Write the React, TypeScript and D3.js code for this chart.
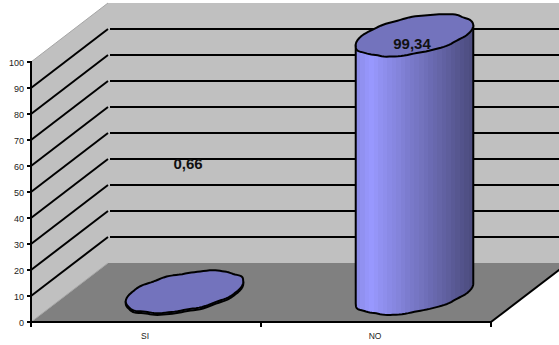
import React from "react";
import * as d3 from "d3";

const categories = ["SI", "NO"];
const values = [0.66, 99.34];
const valueLabels = ["0,66", "99,34"];
const gridValues = [10, 20, 30, 40, 50, 60, 70, 80, 90];

// Hand-traced radial deviation of each cylinder cap outline, one entry per 15 degrees.
const outlineWobbleSi = [1.0, 1.0, 1.0, 1.02, 0.98, 1.0, 1.025, 0.985, 0.97, 1.025, 0.985, 1.025, 1.0, 1.0, 1.0, 1.0, 1.025, 0.98, 1.02, 1.0, 0.975, 1.02, 0.985, 1.02];
const outlineWobbleNo = [1.0, 1.0, 1.0, 1.0, 0.98, 1.02, 1.0, 0.98, 1.015, 0.98, 1.0, 0.98, 1.0, 1.0, 1.0, 1.02, 0.985, 0.975, 1.02, 1.025, 0.98, 1.0, 1.02, 0.98];

const bodyShades = ["#8c8ce9", "#9999ff", "#8f8fee", "#8686df", "#7c7cce", "#7373bf", "#6969af", "#60609f", "#56568f", "#4d4d80"];

const WIDTH = 559;
const HEIGHT = 345;
const depthX = 77;
const depthY = -59;
const capSpan = 52;
const capSkewX = 27.4;
const capSkewY = 21;

const x = d3.scaleBand<string>().domain(categories).range([31, 491]);
const y = d3.scaleLinear().domain([0, 100]).range([322, 62]);
const shade = d3.scaleLinear<string>()
  .domain(bodyShades.map((_, i) => i / (bodyShades.length - 1)))
  .range(bodyShades);

const line = d3.line();

// Radial factor at any angle, eased between the traced entries.
function wobbleAt(wobble: number[], deg: number) {
  const d = ((deg % 360) + 360) % 360;
  const i = Math.floor(d / 15);
  const f = d / 15 - i;
  const e = (1 - Math.cos(f * Math.PI)) / 2;
  return wobble[i % wobble.length] * (1 - e) + wobble[(i + 1) % wobble.length] * e;
}

function capPoint(cx: number, cy: number, deg: number, wobble: number[]): [number, number] {
  const t = (deg * Math.PI) / 180;
  const k = wobbleAt(wobble, deg);
  return [
    cx + k * (capSpan * Math.cos(t) + capSkewX * Math.sin(t)),
    cy - k * capSkewY * Math.sin(t),
  ];
}

// The silhouette's extremes lie where the skewed ellipse reaches its widest x.
const rightDeg = (Math.atan2(capSkewX, capSpan) * 180) / Math.PI;
const leftDeg = rightDeg + 180;

function Cylinder({ index, wobble }: { index: number; wobble: number[] }) {
  const name = categories[index];
  const cx = (x(name) as number) + x.bandwidth() / 2 + depthX / 2;
  const baseY = y(0) + depthY / 2 + 1;
  const topY = baseY - (y(0) - y(values[index]));
  const lower = d3.range(leftDeg, rightDeg + 360 + 0.01, 3).map((d) => capPoint(cx, baseY, d, wobble));
  const cap = d3.range(0, 360, 3).map((d) => capPoint(cx, topY, d, wobble));
  const silhouette: [number, number][] = [
    capPoint(cx, topY, leftDeg, wobble),
    ...lower,
    capPoint(cx, topY, rightDeg, wobble),
  ];
  const gradientId = `body-${index}`;
  const bands = d3.range(26);
  return (
    <g>
      <defs>
        <linearGradient id={gradientId} x1="0" x2="1" y1="0" y2="0">
          {bands.flatMap((b) => [
            <stop key={`${b}a`} offset={b / 26} stopColor={shade(b / 25)} />,
            <stop key={`${b}b`} offset={(b + 1) / 26} stopColor={shade(b / 25)} />,
          ])}
        </linearGradient>
      </defs>
      <path d={line(silhouette) + "Z"} fill={`url(#${gradientId})`} stroke="#000" strokeWidth={2} strokeLinejoin="round" />
      <path d={line(cap) + "Z"} fill="#7373bd" stroke="#000" strokeWidth={2} strokeLinejoin="round" />
    </g>
  );
}

export default function App() {
  const front0 = y(0);
  const front100 = y(100);
  const left = x.range()[0];
  const right = x.range()[1];
  const floor = [
    [left, front0],
    [right, front0],
    [right + depthX, front0 + depthY],
    [left + depthX, front0 + depthY],
  ] as [number, number][];
  const sideWall = [
    [left, front0],
    [left + depthX, front0 + depthY],
    [left + depthX, front100 + depthY],
    [left, front100],
  ] as [number, number][];
  const backWall = [
    [left + depthX, front0 + depthY],
    [right + depthX, front0 + depthY],
    [right + depthX, front100 + depthY],
    [left + depthX, front100 + depthY],
  ] as [number, number][];
  const font = "'Liberation Sans', Arial, sans-serif";
  const step = x.step();
  const tickXs = [left, left + step, left + 2 * step];

  return (
    <svg
      width={WIDTH}
      height={HEIGHT}
      viewBox={`0 0 ${WIDTH} ${HEIGHT}`}
      style={{ position: "absolute", left: 0, top: 0, background: "#fff" }}
      fontFamily={font}
    >
      <path d={line(backWall) + "Z"} fill="#c0c0c0" />
      <path d={line(sideWall) + "Z"} fill="#c0c0c0" />
      <path d={line(floor) + "Z"} fill="#808080" />

      {/* pale edges of the side wall */}
      {[0, 100].map((v) => (
        <line key={v} x1={left} y1={y(v)} x2={left + depthX} y2={y(v) + depthY} stroke="#a6a6a6" strokeWidth={1} />
      ))}

      {gridValues.map((v) => (
        <g key={v} stroke="#000" strokeWidth={2}>
          <line x1={left} y1={y(v)} x2={left + depthX} y2={y(v) + depthY} />
          <line x1={left + depthX + 2} y1={y(v) + depthY} x2={WIDTH} y2={y(v) + depthY} />
        </g>
      ))}

      <Cylinder index={0} wobble={outlineWobbleSi} />
      <Cylinder index={1} wobble={outlineWobbleNo} />

      {/* value axis */}
      <line x1={left} y1={front100 - 1} x2={left} y2={front0 + 5} stroke="#000" strokeWidth={2} />
      {y.ticks(10).map((v) => (
        <g key={v}>
          <line x1={left - 4} y1={y(v)} x2={left} y2={y(v)} stroke="#000" strokeWidth={2} />
          <text x={left - 7} y={y(v) + 4} textAnchor="end" fontSize={9} fill="#222">{v}</text>
        </g>
      ))}

      {/* category axis and the right floor edge */}
      <line x1={left} y1={front0} x2={right} y2={front0} stroke="#000" strokeWidth={2} />
      <line x1={right} y1={front0} x2={right + depthX} y2={front0 + depthY} stroke="#000" strokeWidth={2} />
      {tickXs.map((t) => (
        <line key={t} x1={t} y1={front0} x2={t} y2={front0 + 5} stroke="#000" strokeWidth={2} />
      ))}
      {categories.map((c) => (
        <text key={c} x={(x(c) as number) + x.bandwidth() / 2 - 1} y={339} textAnchor="middle" fontSize={8.5} fill="#222">{c}</text>
      ))}

      <text x={188} y={169} textAnchor="middle" fontSize={15} fontWeight="bold" fill="#111">{valueLabels[0]}</text>
      <text x={412} y={49} textAnchor="middle" fontSize={15} fontWeight="bold" fill="#111">{valueLabels[1]}</text>
    </svg>
  );
}
